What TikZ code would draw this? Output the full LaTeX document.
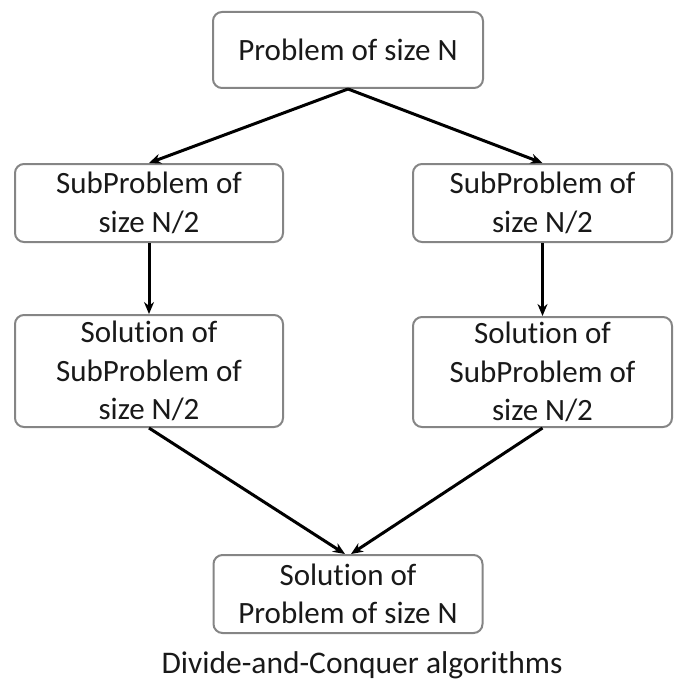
\documentclass[tikz,border=0pt]{standalone}
\usepackage{fontspec}
\setmainfont[Ligatures=CommonOff]{Carlito}
\usetikzlibrary{arrows.meta}
\begin{document}
\begin{tikzpicture}[x=1pt,y=-1pt,
  box/.style={draw=black!48, line width=2pt, rounded corners=9pt, align=center,
    inner sep=0pt, text=black!90, font=\fontsize{31}{38.5}\selectfont},
  conn/.style={line width=3pt, -{Stealth[length=12pt,width=10pt]}},
  caption/.style={text=black!90, font=\fontsize{31.5}{36}\selectfont}]
\useasboundingbox (0,0) rectangle (673,682);
\node[box, minimum width=270pt, minimum height=76pt] (top) at (348,50) {Problem of size N};
\node[box, minimum width=268pt, minimum height=78pt] (ls) at (149,203) {SubProblem of\\size N/2};
\node[box, minimum width=259pt, minimum height=78pt] (rs) at (542.5,203) {SubProblem of\\size N/2};
\node[box, minimum width=268pt, minimum height=112pt] (lsol) at (149,371) {Solution of\\SubProblem of\\size N/2};
\node[box, minimum width=259pt, minimum height=110pt] (rsol) at (542.5,372) {Solution of\\SubProblem of\\size N/2};
\node[box, minimum width=269pt, minimum height=78pt] (bot) at (348,594) {Solution of\\Problem of size N};
\node[caption] (cap) at (362,665) {Divide-and-Conquer algorithms};
\draw[conn] (top.south) -- (ls.north);
\draw[conn] (top.south) -- (rs.north);
\draw[conn] (ls.south) -- (lsol.north);
\draw[conn] (rs.south) -- (rsol.north);
\draw[conn] (lsol.south) -- ([xshift=-3pt]bot.north);
\draw[conn] (rsol.south) -- ([xshift=3pt]bot.north);
\end{tikzpicture}
\end{document}
